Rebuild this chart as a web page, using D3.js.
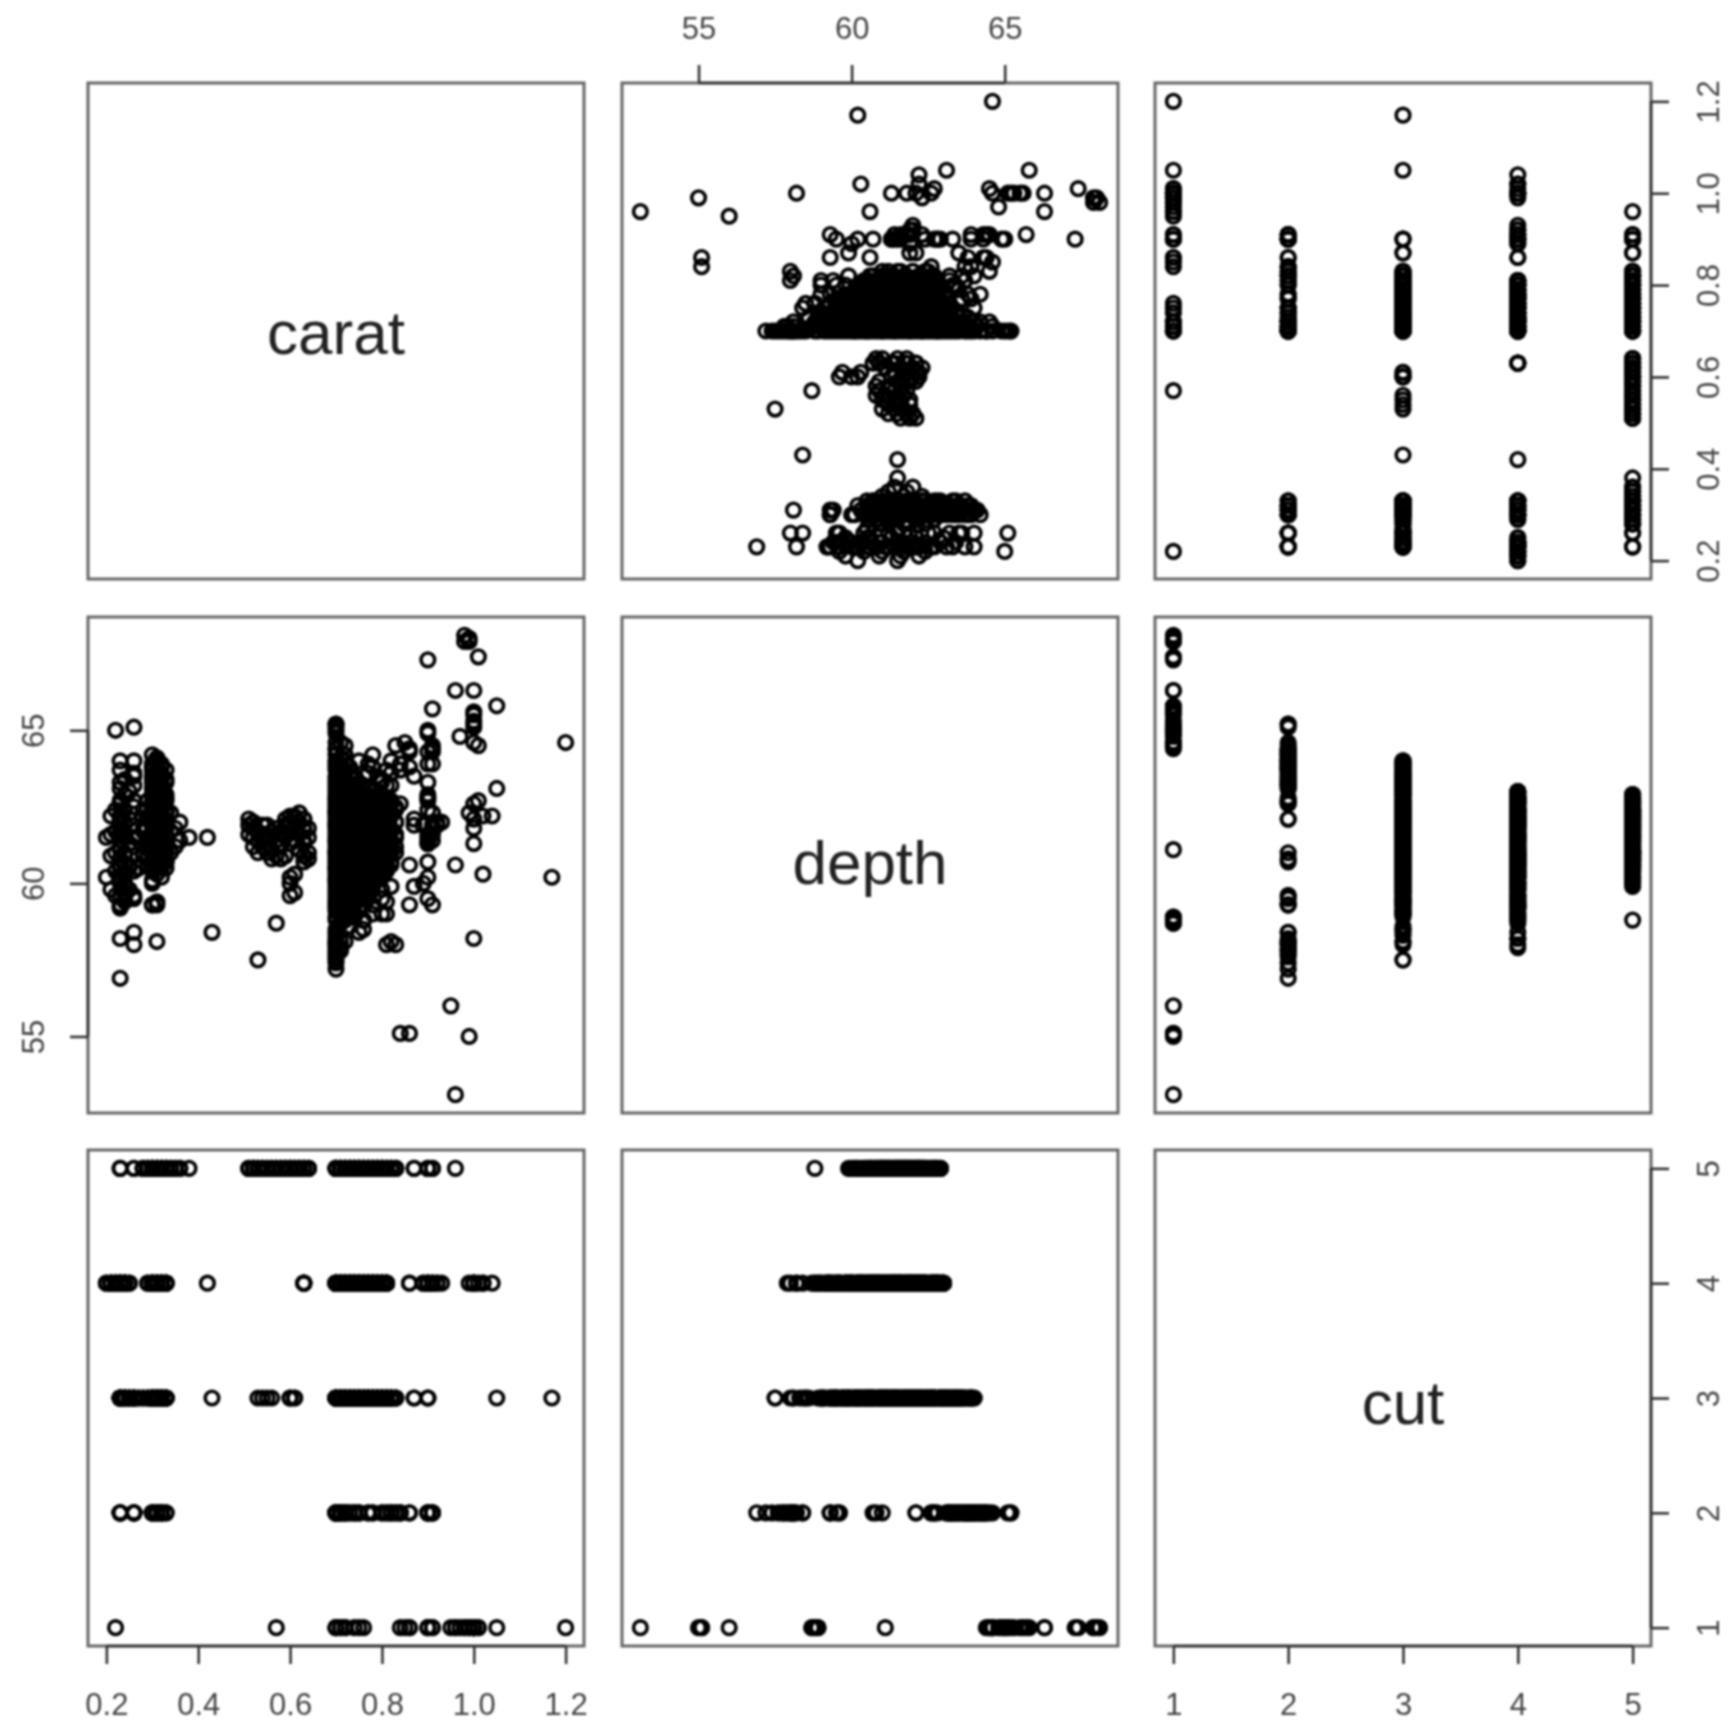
<!DOCTYPE html>
<html>
<head>
<meta charset="utf-8">
<script src="https://cdn.jsdelivr.net/npm/d3@7"></script>
<style>
  html, body { margin: 0; padding: 0; background: #fff; }
  svg { display: block; filter: blur(1px); }
</style>
</head>
<body>
<div id="vis-container"></div>
<script>
// points, grouped by cut value: [carat, [depths at that carat]]
const cut1Rows = [
  [0.22, [65.0]], [0.57, [58.7]], [0.70, [65.1, 65.0, 64.9, 58.8]], [0.71, [64.6, 58.7]], [0.72, [64.5, 58.9]],
  [0.74, [58.9]], [0.75, [61.1]], [0.76, [58.8]], [0.84, [55.1]], [0.85, [64.6]], [0.86, [55.1, 64.4]],
  [0.90, [67.3, 64.9, 65.0]], [0.91, [65.7, 64.5]], [0.95, [56.0]], [0.96, [53.1, 66.3]], [0.97, [64.8]],
  [0.98, [67.9, 68.1]], [0.99, [55.0, 68.0, 67.9]], [1.00, [66.3, 65.5, 65.3, 65.1, 64.6, 65.6, 65.2]],
  [1.01, [67.4, 64.5]], [1.05, [65.8]], [1.20, [64.6]]
];

const cut2Rows = [
  [0.23, [56.9, 58.2, 59.3, 62.1, 64.0, 63.7]], [0.26, [58.0, 58.4, 65.1, 64.0, 63.5, 59.6]],
  [0.30, [62.6, 63.4, 63.8, 64.2, 60.8]], [0.31, [63.2, 63.6, 64.1, 59.3]],
  [0.32, [62.7, 63.1, 63.5, 63.9, 61.0]], [0.33, [63.3, 63.7]],
  [0.70, [57.2, 57.4, 57.6, 57.7, 57.8, 58.1, 63.2, 63.4, 63.8, 64.2, 64.4, 64.4, 64.6, 65.2, 65.2]],
  [0.71, [57.8, 57.9, 58.1, 63.4, 63.9, 64.1]], [0.72, [58.1, 63.3, 63.7, 64.0, 64.2]], [0.73, [63.2, 63.8]],
  [0.74, [59.6, 62.7, 63.5]], [0.75, [58.4, 63.2, 64.0]], [0.77, [63.1, 63.6]], [0.78, [63.8, 64.2]],
  [0.80, [62.1, 63.3]], [0.81, [58.0, 63.7]], [0.82, [58.1, 63.2, 64.0]], [0.83, [58.0, 64.5]], [0.84, [62.6, 63.7, 63.9]],
  [0.86, [63.8, 64.3]], [0.90, [59.5, 60.7, 62.7, 62.8, 63.3, 64.3]], [0.91, [59.3, 63.9, 64.3, 64.4]]
];

const cut3Rows = [
  [0.23, [59.2, 59.6, 60.0, 60.2, 60.5, 60.8, 61.1, 61.4, 62.0, 62.6, 63.1, 63.3]], [0.24, [59.4, 59.7, 60.0, 60.4, 61.0, 61.7, 62.4, 62.9, 63.4]],
  [0.25, [59.8, 60.6, 61.3, 62.1, 63.0]], [0.26, [59.5, 60.4, 61.2, 61.9, 62.7, 63.2, 63.6]],
  [0.27, [60.5, 61.5]], [0.28, [60.9, 61.8]], [0.29, [60.6, 61.4, 62.2]],
  [0.30, [59.3, 60.1, 60.4, 60.8, 61.0, 61.2, 61.5, 61.7, 61.9, 62.1, 62.3, 62.5, 62.7, 62.9, 63.1, 63.3, 63.5, 63.7, 63.8, 63.9]],
  [0.31, [58.1, 59.4, 60.5, 60.7, 60.9, 61.1, 61.3, 61.6, 61.8, 62.0, 62.2, 62.4, 62.6, 62.8, 63.0, 63.2, 63.4, 63.6, 63.9, 64.0]],
  [0.32, [60.6, 61.0, 61.2, 61.4, 61.6, 61.8, 62.0, 62.2, 62.4, 62.6, 62.8, 63.0, 63.2, 63.4, 63.6, 63.8]],
  [0.33, [60.7, 61.1, 61.3, 61.5, 61.8, 62.0, 62.4, 62.9, 63.4]],
  [0.43, [58.4]], [0.53, [57.5]], [0.54, [61.5]], [0.55, [61.9]], [0.56, [61.1]],
  [0.60, [59.6, 60.0, 60.2]], [0.61, [59.7, 60.3]],
  [0.70, [57.5, 58.0, 58.1, 58.3, 58.5, 59.1, 59.3, 59.5, 59.7, 59.9, 60.1, 60.3, 60.5, 60.7, 60.9, 61.1, 61.3, 61.5, 61.7, 61.9, 62.1, 62.3, 62.5, 62.7, 62.9, 63.1, 63.3, 63.5, 63.7, 63.9, 64.0]],
  [0.71, [58.9, 59.3, 59.7, 60.1, 60.5, 60.9, 61.3, 61.7, 62.1, 62.5, 62.9, 63.3, 63.7]],
  [0.72, [59.0, 59.4, 59.8, 60.2, 60.6, 61.0, 61.4, 61.8, 62.2, 62.6, 63.0, 63.4, 63.6]],
  [0.73, [58.6, 59.1, 59.5, 59.9, 60.3, 60.7, 61.1, 61.5, 61.9, 62.3, 62.7, 63.1, 63.5]],
  [0.74, [59.0, 59.4, 59.8, 60.2, 60.6, 61.0, 61.4, 61.8, 62.2, 62.6, 63.0, 63.4]],
  [0.75, [59.1, 59.5, 59.9, 60.3, 60.7, 61.1, 61.5, 61.9, 62.3, 62.7, 63.1, 63.3]],
  [0.76, [58.5, 59.3, 59.7, 60.1, 60.5, 60.9, 61.3, 61.7, 62.1, 62.5, 62.9, 63.2]],
  [0.77, [59.5, 59.9, 60.3, 60.7, 61.1, 61.5, 61.9, 62.3, 62.7, 63.1, 63.9]],
  [0.78, [59.0, 59.8, 60.2, 60.6, 61.0, 61.4, 61.8, 62.2, 62.6, 63.0]],
  [0.79, [60.1, 60.5, 60.9, 61.3, 61.7, 62.1, 62.5, 62.9, 63.5]],
  [0.80, [59.0, 59.5, 60.2, 60.6, 61.0, 61.4, 61.8, 62.2, 62.6, 62.9, 63.4]],
  [0.81, [59.4, 60.4, 60.8, 61.2, 61.6, 62.0, 62.4, 62.7, 63.2]],
  [0.82, [59.9, 60.6, 61.0, 61.4, 61.8, 62.2, 62.6, 63.6]],
  [0.83, [61.2, 61.6, 62.0, 62.5]],
  [0.87, [59.9, 63.5]], [0.90, [61.5, 62.9, 63.9]], [1.05, [63.1]], [1.17, [60.2]]
];

const cut4Rows = [
  [0.20, [60.2, 61.5]], [0.21, [59.8, 60.9, 61.6, 62.2]], [0.22, [59.6, 60.4, 61.0, 61.7, 62.4]],
  [0.23, [59.2, 60.1, 60.6, 61.2, 61.8, 62.1, 62.7]], [0.24, [59.5, 59.9, 60.3, 60.6, 60.9, 61.5, 62.0]], [0.25, [60.5, 61.3]],
  [0.29, [60.8, 62.1]], [0.30, [59.3, 60.0, 60.6, 61.1, 61.6, 62.1, 62.6, 62.9]],
  [0.31, [60.3, 60.9, 61.4, 61.9, 62.4, 62.8]], [0.32, [60.2, 60.7, 61.2, 61.7, 62.2, 62.7, 63.0]],
  [0.33, [60.5, 61.0, 61.6, 62.3, 62.8]], [0.42, [61.5]], [0.63, [60.7, 60.9, 61.4, 61.8, 62.1]],
  [0.70, [57.9, 58.0, 58.2, 58.4, 58.9, 59.2, 59.4, 59.6, 59.8, 60.0, 60.2, 60.4, 60.6, 60.8, 61.0, 61.2, 61.4, 61.6, 61.8, 62.0, 62.2, 62.4, 62.6, 62.8, 63.0]],
  [0.71, [58.7, 59.1, 59.5, 59.9, 60.3, 60.7, 61.1, 61.5, 61.9, 62.3, 62.7, 63.0]],
  [0.72, [58.8, 59.2, 59.6, 60.0, 60.4, 60.8, 61.2, 61.6, 62.0, 62.4, 62.8]],
  [0.73, [59.0, 59.4, 59.8, 60.2, 60.6, 61.0, 61.4, 61.8, 62.2, 62.6, 63.0]],
  [0.74, [58.9, 59.3, 59.7, 60.1, 60.5, 60.9, 61.3, 61.7, 62.1, 62.5, 62.9]],
  [0.75, [59.2, 59.6, 60.0, 60.4, 60.8, 61.2, 61.6, 62.0, 62.4, 62.8]],
  [0.76, [58.8, 59.5, 59.9, 60.3, 60.7, 61.1, 61.5, 61.9, 62.3, 62.7, 63.0]],
  [0.77, [59.6, 60.0, 60.4, 60.8, 61.2, 61.6, 62.0, 62.4, 62.8]],
  [0.78, [59.3, 59.9, 60.3, 60.7, 61.1, 61.5, 61.9, 62.3, 62.7]],
  [0.79, [60.2, 60.6, 61.0, 61.4, 61.8, 62.2, 62.6, 62.9]],
  [0.80, [59.8, 60.3, 60.7, 61.1, 61.5, 61.9, 62.3, 62.7]],
  [0.81, [59.0, 60.5, 60.9, 61.3, 61.7, 62.1, 62.5, 62.8]],
  [0.86, [59.3, 60.6]], [0.89, [60.0, 61.9]], [0.90, [60.2, 61.3, 61.4, 62.8]], [0.91, [61.4, 61.6, 61.9]],
  [0.92, [61.9, 62.0]], [0.93, [62.0]], [0.99, [62.3]], [1.00, [58.2, 61.3, 61.8, 62.1, 62.6]],
  [1.01, [62.7]], [1.02, [60.3, 62.2]], [1.04, [62.2]]
];

const cut5Rows = [
  [0.23, [60.8, 61.6, 62.2]], [0.26, [61.5, 62.5]], [0.28, [61.0, 61.7, 62.4]], [0.29, [60.9, 61.5, 62.1, 62.7]],
  [0.30, [60.5, 61.0, 61.4, 61.8, 62.2, 62.6]], [0.31, [60.6, 61.1, 61.6, 62.1, 62.5, 62.9]],
  [0.32, [60.5, 61.0, 61.5, 62.0, 62.4, 62.8]], [0.33, [60.7, 61.2, 61.8, 62.3, 62.7]], [0.34, [61.0, 61.7, 62.3]],
  [0.35, [61.2, 61.8]], [0.36, [61.4, 62.0]], [0.38, [61.5]],
  [0.51, [61.6, 61.9, 62.1]], [0.52, [61.2, 61.5, 61.8, 62.0]], [0.53, [61.0, 61.4, 61.7]], [0.54, [61.2, 61.6, 61.9]],
  [0.55, [61.0, 61.5]], [0.56, [60.8, 61.1, 61.7]], [0.57, [60.9, 61.4, 61.8]], [0.58, [60.8, 61.2, 61.6]],
  [0.59, [60.9, 61.5, 61.9, 62.1]], [0.60, [61.3, 61.7, 62.0, 62.2]], [0.61, [61.4, 61.9, 62.2]],
  [0.62, [61.1, 61.6, 62.0, 62.3]], [0.63, [60.9, 61.3, 61.8, 62.1]], [0.64, [60.8, 61.0, 61.5, 61.8]],
  [0.70, [60.1, 60.5, 61.0, 61.4, 61.9, 62.3, 62.8]], [0.71, [60.0, 60.4, 60.9, 61.3, 61.8, 62.2, 62.7]],
  [0.72, [60.2, 60.6, 61.1, 61.5, 62.0, 62.4, 62.9]], [0.73, [59.9, 60.4, 60.8, 61.3, 61.7, 62.2, 62.6]],
  [0.74, [60.1, 60.5, 61.0, 61.4, 61.9, 62.3, 62.8]], [0.75, [60.0, 60.6, 61.1, 61.6, 62.1, 62.5, 62.9]],
  [0.76, [58.8, 60.2, 60.7, 61.2, 61.7, 62.2, 62.7]], [0.77, [60.1, 60.6, 61.1, 61.6, 62.1, 62.6]],
  [0.78, [60.3, 60.8, 61.3, 61.8, 62.3, 62.8]], [0.79, [60.2, 60.7, 61.2, 61.7, 62.2, 62.7]],
  [0.80, [60.4, 60.9, 61.4, 61.9, 62.4, 62.8]], [0.81, [60.6, 61.1, 61.6, 62.1, 62.6]],
  [0.82, [60.7, 61.2, 61.7, 62.2, 62.7]], [0.83, [61.0, 61.5, 62.0, 62.4]],
  [0.87, [61.9, 62.1]], [0.90, [61.3, 61.6, 62.4]], [0.91, [61.8, 62.3]], [0.96, [60.6]]
];

const cutRows = [cut1Rows, cut2Rows, cut3Rows, cut4Rows, cut5Rows];

const caratTicks = [0.2, 0.4, 0.6, 0.8, 1.0, 1.2];
const depthTicks = [55, 60, 65];
const cutTicks = [1, 2, 3, 4, 5];

const varNames = ["carat", "depth", "cut"];

// flatten the groups into one row per diamond
let points = [];
cutRows.forEach(function(rows, i) {
  rows.forEach(function(row) {
    row[1].forEach(function(d) {
      points.push({carat: row[0], depth: d, cut: i + 1});
    });
  });
});

const panelSize = 496;
const colLeft = [88, 622, 1155];
const rowTop = [83, 617, 1150];
const labelShift = [23, 19, 26];
const tickLen = 18;

let svg = d3.select("#vis-container")
            .append("svg")
            .attr("width", 1728)
            .attr("height", 1725);

svg.append("rect")
   .attr("width", 1728)
   .attr("height", 1725)
   .attr("fill", "#fff");

// same 4% padding on both ends as base R
function paddedDomain(key) {
  let ext = d3.extent(points, function(d) { return d[key]; });
  let pad = (ext[1] - ext[0]) * 0.04;
  return [ext[0] - pad, ext[1] + pad];
}

let xScales = varNames.map(function(name) {
  return d3.scaleLinear().domain(paddedDomain(name)).range([0, panelSize]);
});
let yScales = varNames.map(function(name) {
  return d3.scaleLinear().domain(paddedDomain(name)).range([panelSize, 0]);
});

varNames.forEach(function(yName, row) {
  varNames.forEach(function(xName, col) {
    let g = svg.append("g")
               .attr("transform", "translate(" + colLeft[col] + "," + rowTop[row] + ")");

    g.append("rect")
     .attr("width", panelSize)
     .attr("height", panelSize)
     .attr("fill", "none")
     .attr("stroke", "#666")
     .attr("stroke-width", 3);

    if (row === col) {
      g.append("text")
       .attr("x", panelSize / 2)
       .attr("y", panelSize / 2 + labelShift[row])
       .attr("text-anchor", "middle")
       .attr("font-family", "'Liberation Sans', Arial, sans-serif")
       .attr("font-size", "62px")
       .attr("fill", "#222")
       .text(xName);
      return;
    }

    g.selectAll("circle")
     .data(points)
     .enter()
     .append("circle")
       .attr("cx", function(d) { return xScales[col](d[xName]); })
       .attr("cy", function(d) { return yScales[row](d[yName]); })
       .attr("r", 6.8)
       .attr("fill", "none")
       .attr("stroke", "#000")
       .attr("stroke-width", 3.6);
  });
});

// axis line only runs between the first and last tick, like R
function styleAxis(g, scale, ticks, vertical) {
  g.select(".domain").remove();
  g.append("line")
   .attr("x1", vertical ? 0 : scale(ticks[0]))
   .attr("x2", vertical ? 0 : scale(ticks[ticks.length - 1]))
   .attr("y1", vertical ? scale(ticks[0]) : 0)
   .attr("y2", vertical ? scale(ticks[ticks.length - 1]) : 0);
  g.selectAll("line")
   .attr("stroke", "#333")
   .attr("stroke-width", 2.6);
  g.selectAll("text")
   .attr("font-family", "'Liberation Sans', Arial, sans-serif")
   .attr("font-size", "31px")
   .attr("fill", "#444");
}

// R puts the y labels sideways, reading upward
function rotateLabels(g, offset) {
  g.selectAll("text")
   .attr("transform", "rotate(-90)")
   .attr("x", 0)
   .attr("y", offset)
   .attr("dy", 0)
   .attr("text-anchor", "middle");
}

// top axis over depth
svg.append("g")
   .attr("transform", "translate(" + colLeft[1] + "," + rowTop[0] + ")")
   .call(d3.axisTop(xScales[1]).tickValues(depthTicks).tickSize(tickLen).tickPadding(26).tickFormat(d3.format("d")))
   .call(styleAxis, xScales[1], depthTicks, false);

// bottom axes
svg.append("g")
   .attr("transform", "translate(" + colLeft[0] + "," + (rowTop[2] + panelSize) + ")")
   .call(d3.axisBottom(xScales[0]).tickValues(caratTicks).tickSize(tickLen).tickPadding(29).tickFormat(d3.format(".1f")))
   .call(styleAxis, xScales[0], caratTicks, false);

svg.append("g")
   .attr("transform", "translate(" + colLeft[2] + "," + (rowTop[2] + panelSize) + ")")
   .call(d3.axisBottom(xScales[2]).tickValues(cutTicks).tickSize(tickLen).tickPadding(29).tickFormat(d3.format("d")))
   .call(styleAxis, xScales[2], cutTicks, false);

// left axis for depth
svg.append("g")
   .attr("transform", "translate(" + colLeft[0] + "," + rowTop[1] + ")")
   .call(d3.axisLeft(yScales[1]).tickValues(depthTicks).tickSize(tickLen).tickFormat(d3.format("d")))
   .call(styleAxis, yScales[1], depthTicks, true)
   .call(rotateLabels, -44);

// right axes
svg.append("g")
   .attr("transform", "translate(" + (colLeft[2] + panelSize) + "," + rowTop[0] + ")")
   .call(d3.axisRight(yScales[0]).tickValues(caratTicks).tickSize(tickLen).tickFormat(d3.format(".1f")))
   .call(styleAxis, yScales[0], caratTicks, true)
   .call(rotateLabels, 68);

svg.append("g")
   .attr("transform", "translate(" + (colLeft[2] + panelSize) + "," + rowTop[2] + ")")
   .call(d3.axisRight(yScales[2]).tickValues(cutTicks).tickSize(tickLen).tickFormat(d3.format("d")))
   .call(styleAxis, yScales[2], cutTicks, true)
   .call(rotateLabels, 68);
</script>
</body>
</html>
